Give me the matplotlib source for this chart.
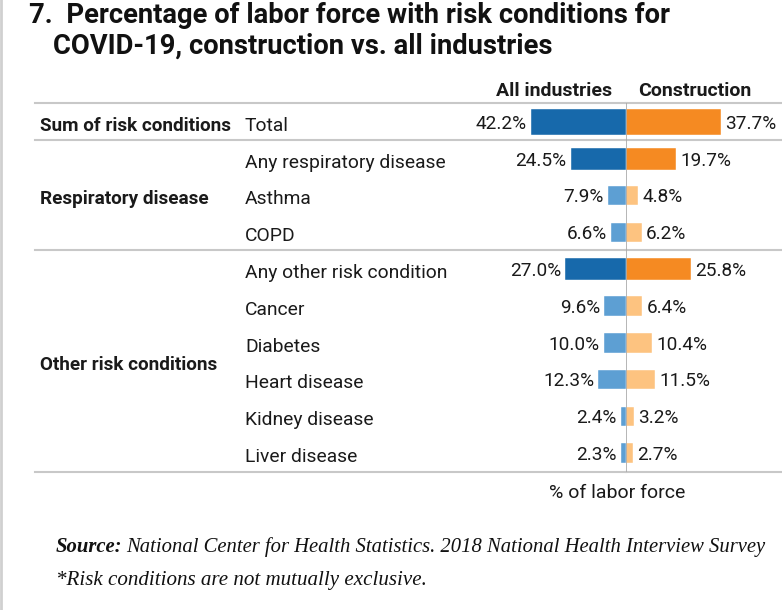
import matplotlib
matplotlib.use("Agg")
import matplotlib.pyplot as plt
from matplotlib import font_manager
from matplotlib.transforms import blended_transform_factory


categories = ["Total", "Any respiratory disease", "Asthma", "COPD",
              "Any other risk condition", "Cancer", "Diabetes",
              "Heart disease", "Kidney disease", "Liver disease"]
all_industries = [42.2, 24.5, 7.9, 6.6, 27.0, 9.6, 10.0, 12.3, 2.4, 2.3]
construction = [37.7, 19.7, 4.8, 6.2, 25.8, 6.4, 10.4, 11.5, 3.2, 2.7]
summary_rows = [0, 1, 4]
groups = ["Sum of risk conditions", "Respiratory disease", "Other risk conditions"]
group_rows = [(0, 0), (1, 3), (4, 9)]

W, H = 782, 610

names = {f.name for f in font_manager.fontManager.ttflist}
narrow = "Liberation Sans Narrow" if "Liberation Sans Narrow" in names else "Roboto"
body = "Roboto" if "Roboto" in names else "DejaVu Sans"

dark_blue, light_blue = "#1769AB", "#5D9FD3"
dark_orange, light_orange = "#F58A22", "#FDC380"


def fx(px):
    return px / W


def fy(py):
    return 1 - py / H


fig = plt.figure(figsize=(W / 100, H / 100), dpi=100)

# left = all industries (inverted), right = construction
top_px, bot_px, mid_px = 103, 472, 626
ax_l = fig.add_axes([fx(35), fy(bot_px), fx(mid_px - 35), (bot_px - top_px) / H])
ax_r = fig.add_axes([fx(mid_px), fy(bot_px), fx(W - mid_px), (bot_px - top_px) / H])

ylim = (9.511, -0.516)
ax_l.set_xlim((mid_px - 35) / 2.25, 0)
ax_r.set_xlim(0, (W - mid_px) / 2.53)

for ax in (ax_l, ax_r):
    ax.set_ylim(*ylim)
    ax.axis("off")
    for yl in (ylim[1], 0.5, 3.48, ylim[0]):
        ax.axhline(yl, color="#c8c8c8", lw=1.5, clip_on=False)

ax_r.axvline(0, color="#a9a9a9", lw=1.2)

for i, (a, c) in enumerate(zip(all_industries, construction)):
    if i == 0:
        h = 0.71
    elif i in summary_rows:
        h = 0.61
    else:
        h = 0.53
    cb = dark_blue if i in summary_rows else light_blue
    co = dark_orange if i in summary_rows else light_orange
    ax_l.barh(i, a, height=h, color=cb, edgecolor="white", lw=0.3)
    ax_r.barh(i, c, height=h, color=co, edgecolor="white", lw=0.3)
    ax_l.annotate(f"{a:.1f}%", xy=(a, i), xytext=(-3, -4.9), textcoords="offset points",
                  ha="right", va="baseline", fontsize=13.7, family=body, color="#1a1a1a")
    ax_r.annotate(f"{c:.1f}%", xy=(c, i), xytext=(3, -4.9), textcoords="offset points",
                  ha="left", va="baseline", fontsize=13.7, family=body, color="#1a1a1a",
                  annotation_clip=False)

# row labels
tr = blended_transform_factory(fig.transFigure, ax_l.transData)
for i, cat in enumerate(categories):
    ax_l.annotate(cat, xy=(fx(245), i), xycoords=tr, xytext=(0, -6.3),
                  textcoords="offset points", ha="left", va="baseline",
                  fontsize=13.9, family=body, color="#1a1a1a")
for g, (r0, r1) in zip(groups, group_rows):
    ax_l.annotate(g, xy=(fx(40), (r0 + r1) / 2), xycoords=tr, xytext=(0, -6.3),
                  textcoords="offset points", ha="left", va="baseline",
                  fontsize=13.6, family=body, weight="bold", color="#1a1a1a")

# headers
fig.text(fx(612), fy(96.5), "All industries", ha="right", va="baseline",
         fontsize=14, family=narrow, weight="bold", color="#1a1a1a")
fig.text(fx(638), fy(96.5), "Construction", ha="left", va="baseline",
         fontsize=14, family=narrow, weight="bold", color="#1a1a1a")
fig.text(fx(617), fy(497.5), "% of labor force", ha="center", va="baseline",
         fontsize=14, family=narrow, color="#1a1a1a")

# title
fig.text(fx(29), fy(23), "7.  Percentage of labor force with risk conditions for",
         ha="left", va="baseline", fontsize=19.7, family=narrow, weight="bold", color="#111111")
fig.text(fx(53), fy(53.5), "COVID-19, construction vs. all industries",
         ha="left", va="baseline", fontsize=19.7, family=narrow, weight="bold", color="#111111")

# source notes
serif = "Liberation Serif"
src = fig.text(fx(56), fy(551.7), "Source:", ha="left", va="baseline", fontsize=14.9,
               family=serif, style="italic", weight="bold", color="#111111")
fig.canvas.draw()
bb = src.get_window_extent(renderer=fig.canvas.get_renderer())
fig.text(bb.x1 / W + fx(4), fy(551.7),
         "National Center for Health Statistics. 2018 National Health Interview Survey",
         ha="left", va="baseline", fontsize=14.9, family=serif, style="italic", color="#111111")
fig.text(fx(56), fy(585), "*Risk conditions are not mutually exclusive.", ha="left",
         va="baseline", fontsize=15.1, family=serif, style="italic", color="#111111")

# thin grey frame at the left edge
fig.add_artist(plt.Line2D([fx(1), fx(1)], [0, 1], color="#d0d0d0", lw=2))

fig.savefig("out.png", dpi=100)
